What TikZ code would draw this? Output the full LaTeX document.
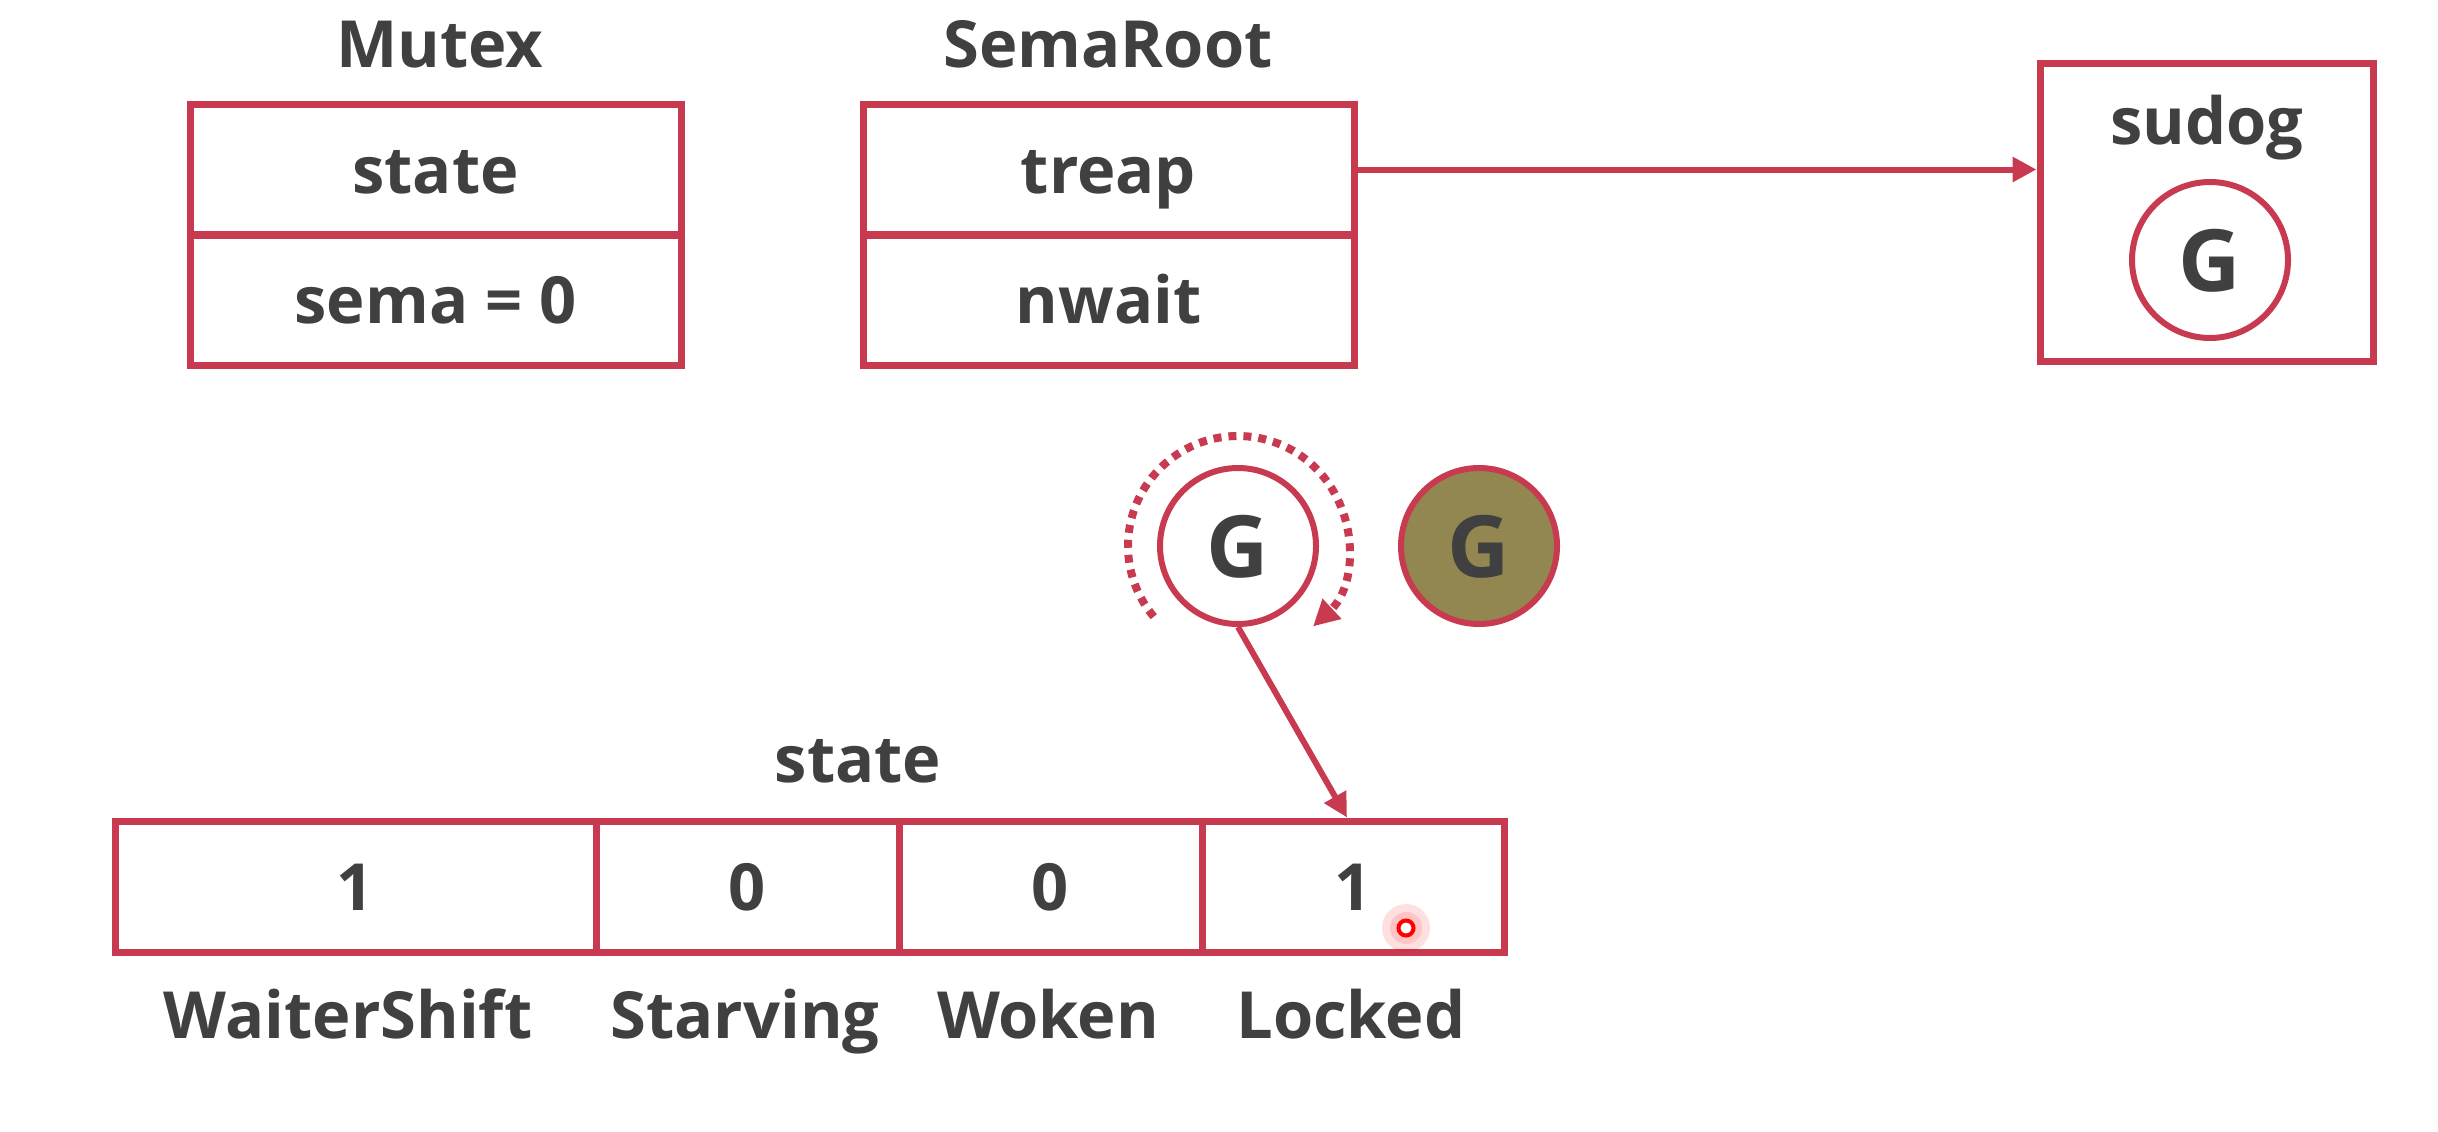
\documentclass[tikz,border=0pt]{standalone}
\usepackage{fontspec}
\setmainfont{Open Sans}
\usetikzlibrary{arrows.meta}
\definecolor{bord}{RGB}{200,58,80}
\definecolor{txt}{RGB}{64,64,64}
\definecolor{olive}{RGB}{146,135,80}
\begin{document}
\begin{tikzpicture}[x=1pt,y=-1pt,
  every node/.style={text=txt,font=\fontsize{65}{70}\selectfont\bfseries,text height=47pt,text depth=0pt},
  cell/.style={draw=bord,line width=7pt,rectangle,inner sep=0pt,minimum height=131pt},
  gcirc/.style={circle,draw=bord,line width=6pt,minimum size=156pt,inner sep=0pt,
     font=\fontsize{86}{90}\selectfont\bfseries,text height=62pt},
  conn/.style={draw=bord,line width=6pt,-{Triangle[length=24pt,width=24pt]}},
  dotarc/.style={draw=bord,line width=8pt,dash pattern=on 8pt off 7pt,-{Triangle[length=26pt,width=26pt]}}
]
\useasboundingbox[fill=white] (0,0) rectangle (2438,1132);

% Mutex
\node (mutext) at (440,44) {Mutex};
\node[cell,minimum width=491pt] (mstate) at (435.5,169.5) {state};
\node[cell,minimum width=491pt] (msema) at (435.5,299.5) {sema = 0};

% SemaRoot
\node (semat) at (1108,44) {SemaRoot};
\node[cell,minimum width=491pt] (treap) at (1108.5,169.5) {treap};
\node[cell,minimum width=491pt] (nwait) at (1108.5,299.5) {nwait};

% sudog
\node[cell,minimum width=333pt,minimum height=297pt] (sudog) at (2206.5,212.5) {};
\node (sudogt) at (2207,121) {sudog};
\node[gcirc,fill=white] (gs) at (2210,260) {G};
\draw[conn] (treap.east) -- (sudog.west |- treap.east);

% middle goroutines
\node[gcirc,fill=white] (gm) at (1238,546) {G};
\node[gcirc,fill=olive] (go) at (1479,546) {G};
\draw[dotarc] (gm.center) ++(-220:110) arc[start angle=-220,end angle=47,radius=110];

% state bar
\node (statet) at (858,759) {state};
\node[cell,minimum width=481pt] (c1) at (355.5,886.5) {1};
\node[cell,minimum width=303pt] (c2) at (747.5,886.5) {0};
\node[cell,minimum width=303pt] (c3) at (1050.5,886.5) {0};
\node[cell,minimum width=302pt] (c4) at (1353,886.5) {1};
\node (l1) at (348,1015) {WaiterShift};
\node (l2) at (745,1015) {Starving};
\node (l3) at (1048,1015) {Woken};
\node (l4) at (1351,1015) {Locked};

\draw[conn] (gm.south) -- (c4.north -| 1347,0);

% cursor
\fill[red,opacity=0.12] (1406,928) circle[radius=24];
\fill[red,opacity=0.12] (1406,928) circle[radius=16];
\node[circle,draw=red,line width=4pt,minimum size=15pt,inner sep=0pt,fill=white,text height=0pt] (cursor) at (1406,928) {};
\end{tikzpicture}
\end{document}
